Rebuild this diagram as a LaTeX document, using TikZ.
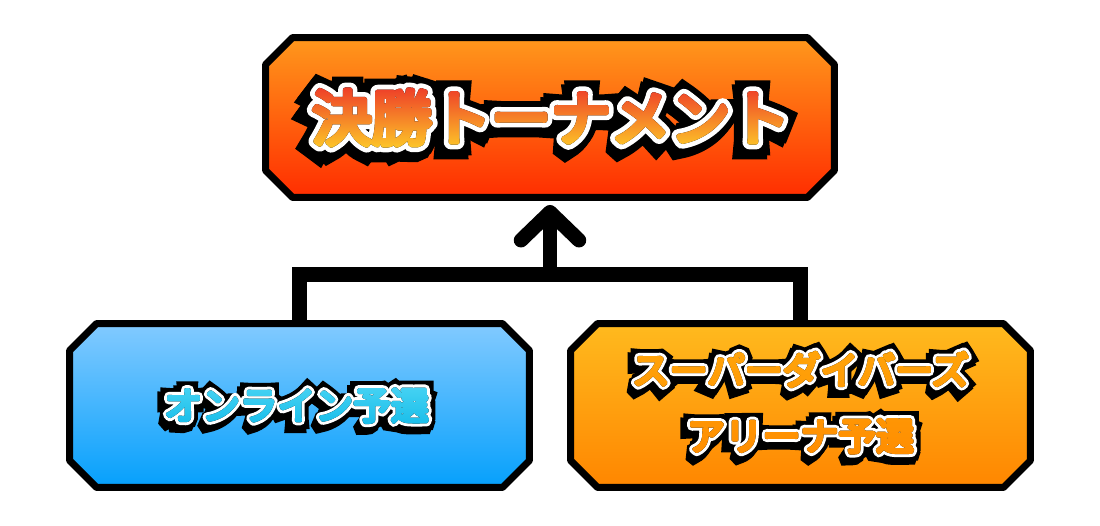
\documentclass[tikz,border=0pt]{standalone}
\usepackage{fontspec}
\newfontfamily\jpfill{Noto Sans CJK JP}[FakeBold=9]
\newfontfamily\jpwhite{Noto Sans CJK JP}[FakeBold=25]
\newfontfamily\jpblack{Noto Sans CJK JP}[FakeBold=45]
\usepackage{tikz}
\usetikzlibrary{positioning,calc,arrows.meta,fadings}
\tikzset{>=stealth}

\definecolor{finalTop}{RGB}{255,152,28}
\definecolor{finalBot}{RGB}{255,45,0}
\definecolor{onlineTop}{RGB}{130,202,255}
\definecolor{onlineBot}{RGB}{5,160,252}
\definecolor{arenaTop}{RGB}{255,186,30}
\definecolor{arenaBot}{RGB}{255,134,0}
\definecolor{titleTop}{RGB}{236,40,40}
\definecolor{titleBot}{RGB}{255,220,40}
\definecolor{onlineInkTop}{RGB}{80,215,245}
\definecolor{onlineInkBot}{RGB}{15,185,232}
\definecolor{arenaInkTop}{RGB}{255,165,10}
\definecolor{arenaInkBot}{RGB}{255,140,0}

\newcommand\titlesize{\fontsize{34}{40}\selectfont}
\newcommand\subsize{\fontsize{21.5}{37.5}\selectfont}
\newcommand\titletext{決勝トーナメント}
\newcommand\onlinetext{オンライン予選}
\newcommand\arenatext{スーパーダイバーズ\\アリーナ予選}

% masks for the gradient lettering
\begin{tikzfadingfrompicture}[name=titlefade]
\node[text=transparent!0,align=center,line join=round,font=\titlesize\jpfill] at (0,0) {\titletext};
\end{tikzfadingfrompicture}
\begin{tikzfadingfrompicture}[name=onlinefade]
\node[text=transparent!0,align=center,line join=round,font=\subsize\jpfill] at (0,0) {\onlinetext};
\end{tikzfadingfrompicture}
\begin{tikzfadingfrompicture}[name=arenafade]
\node[text=transparent!0,align=center,line join=round,font=\subsize\jpfill] at (0,0) {\arenatext};
\end{tikzfadingfrompicture}

% octagonal frame round a named box
\newcommand\panelframe[3]{%
  \draw[frame,top color=#2,bottom color=#3]
    ($(#1.north west)+(27,0)$) -- ($(#1.north east)+(-27,0)$) --
    ($(#1.north east)+(0,27)$) -- ($(#1.south east)+(0,-27)$) --
    ($(#1.south east)+(-27,0)$) -- ($(#1.south west)+(27,0)$) --
    ($(#1.south west)+(0,-27)$) -- ($(#1.north west)+(0,27)$) -- cycle;}

\begin{document}
\begin{tikzpicture}[x=0.02cm,y=-0.02cm,
  panel/.style={rectangle,inner sep=0pt,outer sep=0pt},
  frame/.style={draw=black,line width=0.14cm,line join=round},
  bracket/.style={line width=0.29cm,line join=miter,draw=black},
  ink/.style={align=center},
  rim/.style={ink,text=black,line join=miter,miter limit=1.6},
  glow/.style={ink,text=white,line join=round}]
\useasboundingbox (0,0) rectangle (1100,525);

% Boxes
\node[panel,minimum width=11.38cm,minimum height=3.2cm] (final) at (550,117.5) {};
\node[panel,minimum width=9.2cm,minimum height=3.28cm] (online) at (299.5,405.5) {};
\node[panel,minimum width=9.2cm,minimum height=3.28cm] (arena) at (800.5,405.5) {};
\panelframe{final}{finalTop}{finalBot}
\panelframe{online}{onlineTop}{onlineBot}
\panelframe{arena}{arenaTop}{arenaBot}

% Connectors
\coordinate (join) at (550,274.5);
\draw[bracket] (online.north) |- (join) -| (arena.north);
\draw[bracket,-{Straight Barb[length=0.56cm,width=1.16cm,round]},shorten >=0.15cm]
  (join) -- (final.south);

% Lettering: shadow, black rim, white rim, gradient fill
\coordinate (titlepos) at ($(final.center)+(1,0)$);
\coordinate (onlinepos) at ($(online.center)+(-3,0)$);
\coordinate (arenapos) at ($(arena.center)+(0,-3)$);

\node[rim,font=\titlesize\jpblack] at ($(titlepos)+(-3,4)$) {\titletext};
\node[rim,font=\titlesize\jpblack] at (titlepos) {\titletext};
\node[glow,font=\titlesize\jpwhite] at (titlepos) {\titletext};
\fill[path fading=titlefade,fit fading=false,fading transform={shift={(titlepos)}},
  top color=titleTop,bottom color=titleBot]
  ($(titlepos)+(-290,-40)$) rectangle ($(titlepos)+(290,40)$);

\node[rim,font=\subsize\jpblack] at ($(onlinepos)+(-3,4)$) {\onlinetext};
\node[rim,font=\subsize\jpblack] at (onlinepos) {\onlinetext};
\node[glow,font=\subsize\jpwhite] at (onlinepos) {\onlinetext};
\fill[path fading=onlinefade,fit fading=false,fading transform={shift={(onlinepos)}},
  top color=onlineInkTop,bottom color=onlineInkBot]
  ($(onlinepos)+(-200,-28)$) rectangle ($(onlinepos)+(200,28)$);

\node[rim,font=\subsize\jpblack] at ($(arenapos)+(-3,4)$) {\arenatext};
\node[rim,font=\subsize\jpblack] at (arenapos) {\arenatext};
\node[glow,font=\subsize\jpwhite] at (arenapos) {\arenatext};
\fill[path fading=arenafade,fit fading=false,fading transform={shift={(arenapos)}},
  top color=arenaInkTop,bottom color=arenaInkBot]
  ($(arenapos)+(-200,-60)$) rectangle ($(arenapos)+(200,60)$);

\end{tikzpicture}
\end{document}
